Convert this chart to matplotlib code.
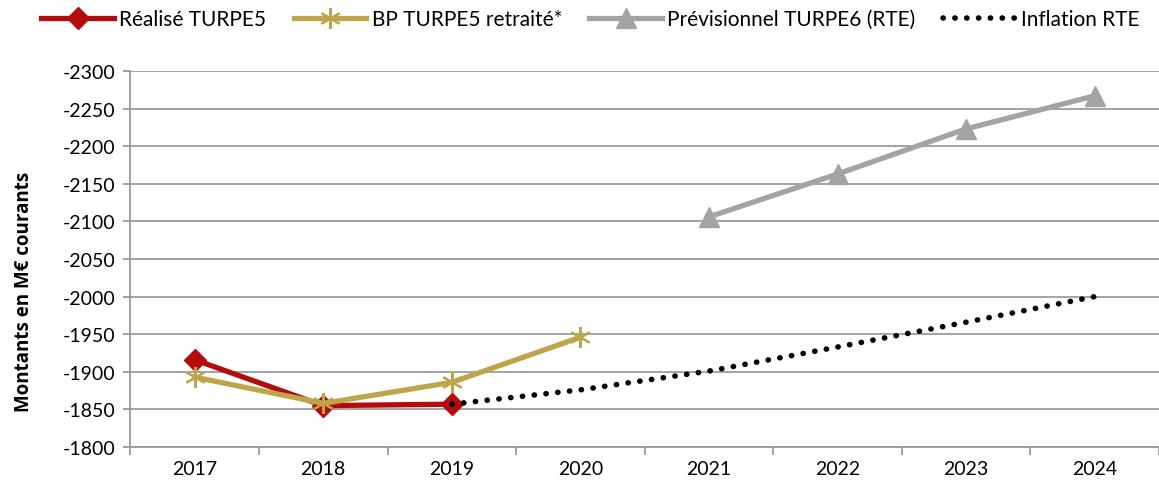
import matplotlib
matplotlib.use('Agg')
from matplotlib import pyplot as plt
import numpy as np

years = ['2017', '2018', '2019', '2020', '2021', '2022', '2023', '2024']
realise = [-1916, -1855, -1857]
bp_retraite = [-1893, -1858, -1886, -1946]
previsionnel = [-2106, -2163, -2223, -2267]
inflation = [-1857, -1876, -1901, -1933, -1966, -2000]

plt.rcParams['font.family'] = ['Lato', 'DejaVu Sans']
plt.rcParams['font.size'] = 14
plt.rcParams['axes.unicode_minus'] = False


def main():
    fig = plt.figure(figsize=(11.59, 4.89), dpi=100)
    ax = fig.add_axes([0.1125, 0.0838, 0.8875, 0.7690])
    x = np.arange(len(years))

    ax.plot(x[0:3], realise, color='#b40c0c', lw=3.8, marker='D', ms=11,
            label='Réalisé TURPE5', zorder=3)
    ax.plot(x[0:4], bp_retraite, color='#bfa54a', lw=3.8, marker=(6, 2, 0),
            ms=15, mew=1.5, label='BP TURPE5 retraité*', zorder=4)
    ax.plot(x[4:8], previsionnel, color='#a3a3a3', lw=3.8, marker='^', ms=14,
            label='Prévisionnel TURPE6 (RTE)', zorder=3)
    ax.plot(x[2:8], inflation, color='black', lw=4, ls=(0, (0.05, 2.08)),
            dash_capstyle='round', label='Inflation RTE', zorder=5)

    ax.set_xlim(-0.5, 7.5)
    ax.set_ylim(-1800, -2300)
    ax.set_yticks(np.arange(-2300, -1799, 50))
    ax.set_xticks(x)
    ax.set_xticklabels(years)
    ax.set_xticks(np.arange(-0.5, 8, 1), minor=True)
    ax.tick_params(axis='x', which='major', length=0, pad=9)
    ax.tick_params(axis='x', which='minor', length=6, width=1.3, color='#999999')
    ax.tick_params(axis='y', length=5, width=1.3, color='#999999', pad=6)

    ax.grid(axis='y', color='#9c9c9c', lw=1.3)
    ax.set_axisbelow(True)
    for side in ['top', 'right']:
        ax.spines[side].set_visible(False)
    for side in ['left', 'bottom']:
        ax.spines[side].set_color('#999999')
        ax.spines[side].set_linewidth(1.3)

    ax.set_ylabel('Montants en M€ courants', family=['Open Sans', 'DejaVu Sans'],
                  fontweight='bold', fontsize=13.5)
    ax.yaxis.set_label_coords(-0.094, 0.415)

    fig.legend(loc='center left', bbox_to_anchor=(0.0285, 0.959), ncol=4,
               frameon=False, fontsize=15, handlelength=3.5, handletextpad=0.25,
               columnspacing=1.3, borderaxespad=0)

    fig.savefig('out.png', dpi=100)


if __name__ == '__main__':
    main()
